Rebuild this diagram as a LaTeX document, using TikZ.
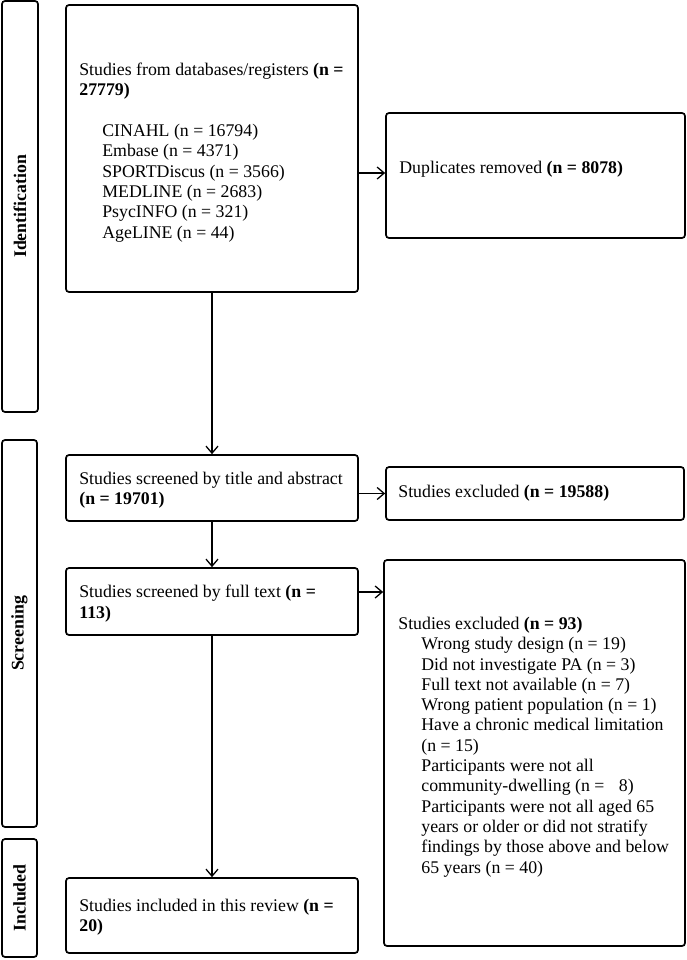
\documentclass[tikz,border=0pt]{standalone}
\usepackage{fontspec}
\setmainfont{Liberation Serif}
\usetikzlibrary{arrows.meta}
\begin{document}
\begin{tikzpicture}[x=1pt,y=-1pt,
  every node/.style={font=\fontsize{17.8}{20.3}\selectfont},
  box/.style={draw, line width=1.7pt, rounded corners=3pt, inner sep=0pt},
  txt/.style={anchor=west, align=left, inner sep=0pt},
  phase/.style={draw, line width=1.7pt, rounded corners=3pt, rotate=90, inner sep=0pt, font=\fontsize{17.8}{20.3}\selectfont\bfseries},
  arr/.style={line width=1.3pt, -{Straight Barb[length=7pt,width=12pt]}}
]
\useasboundingbox (0,0) rectangle (686,960);
% phase bars
\node[phase, minimum width=411pt, minimum height=36pt] (ph1) at (20,206.5) {Identification};
\node[phase, minimum width=387pt, minimum height=35pt] (ph2) at (19.5,633.5) {Screening};
\node[phase, minimum width=118pt, minimum height=35pt] (ph3) at (19.5,898) {Included};
% boxes
\node[box, minimum width=292pt, minimum height=287pt] (A) at (212,148.5) {};
\node[box, minimum width=299pt, minimum height=125pt] (Dup) at (535.5,175.5) {};
\node[box, minimum width=292pt, minimum height=66pt] (B) at (212,488) {};
\node[box, minimum width=298pt, minimum height=53pt] (E1) at (535,493.5) {};
\node[box, minimum width=292pt, minimum height=67pt] (C) at (212,601.5) {};
\node[box, minimum width=301pt, minimum height=386pt] (E2) at (534.5,753) {};
\node[box, minimum width=292pt, minimum height=75pt] (D) at (212,915.5) {};
% texts
\node[txt, xshift=14pt, yshift=-4pt] (tA) at (A.west)
 {Studies from databases/registers \textbf{(n =}\\\textbf{27779)}\\[20.3pt]
  \hspace*{23pt}CINAHL (n = 16794)\\
  \hspace*{23pt}Embase (n = 4371)\\
  \hspace*{23pt}SPORTDiscus (n = 3566)\\
  \hspace*{23pt}MEDLINE (n = 2683)\\
  \hspace*{23pt}PsycINFO (n = 321)\\
  \hspace*{23pt}AgeLINE (n = 44)};
\node[txt, xshift=14pt, yshift=6pt] (tDup) at (Dup.west) {Duplicates removed \textbf{(n = 8078)}};
\node[txt, xshift=14pt, yshift=-2pt] (tB) at (B.west)
 {Studies screened by title and abstract\\\textbf{(n = 19701)}};
\node[txt, xshift=13pt] (tE1) at (E1.west) {Studies excluded \textbf{(n = 19588)}};
\node[txt, xshift=14pt, yshift=-2pt] (tC) at (C.west)
 {Studies screened by full text \textbf{(n =}\\\textbf{113)}};
\node[txt, xshift=15pt, yshift=6pt] (tE2) at (E2.west)
 {Studies excluded \textbf{(n = 93)}\\
  \hspace*{23pt}Wrong study design (n = 19)\\
  \hspace*{23pt}Did not investigate PA (n = 3)\\
  \hspace*{23pt}Full text not available (n = 7)\\
  \hspace*{23pt}Wrong patient population (n = 1)\\
  \hspace*{23pt}Have a chronic medical limitation\\
  \hspace*{23pt}(n = 15)\\
  \hspace*{23pt}Participants were not all\\
  \hspace*{23pt}community-dwelling (n = \hspace{10pt}8)\\
  \hspace*{23pt}Participants were not all aged 65\\
  \hspace*{23pt}years or older or did not stratify\\
  \hspace*{23pt}findings by those above and below\\
  \hspace*{23pt}65 years (n = 40)};
\node[txt, xshift=14pt, yshift=-1.5pt] (tD) at (D.west)
 {Studies included in this review \textbf{(n =}\\\textbf{20)}};
% connectors
\draw[arr] ([yshift=2.5pt]A.east |- Dup.west) -- ([yshift=2.5pt]Dup.west);
\draw[arr] (A) -- (B);
\draw[arr] (B.east |- E1.west) -- (E1.west);
\draw[arr] (B) -- (C);
\draw[arr] ([yshift=9.5pt]C.east) -- ([yshift=9.5pt]C.east -| E2.west);
\draw[arr] (C) -- (D);
\end{tikzpicture}
\end{document}
